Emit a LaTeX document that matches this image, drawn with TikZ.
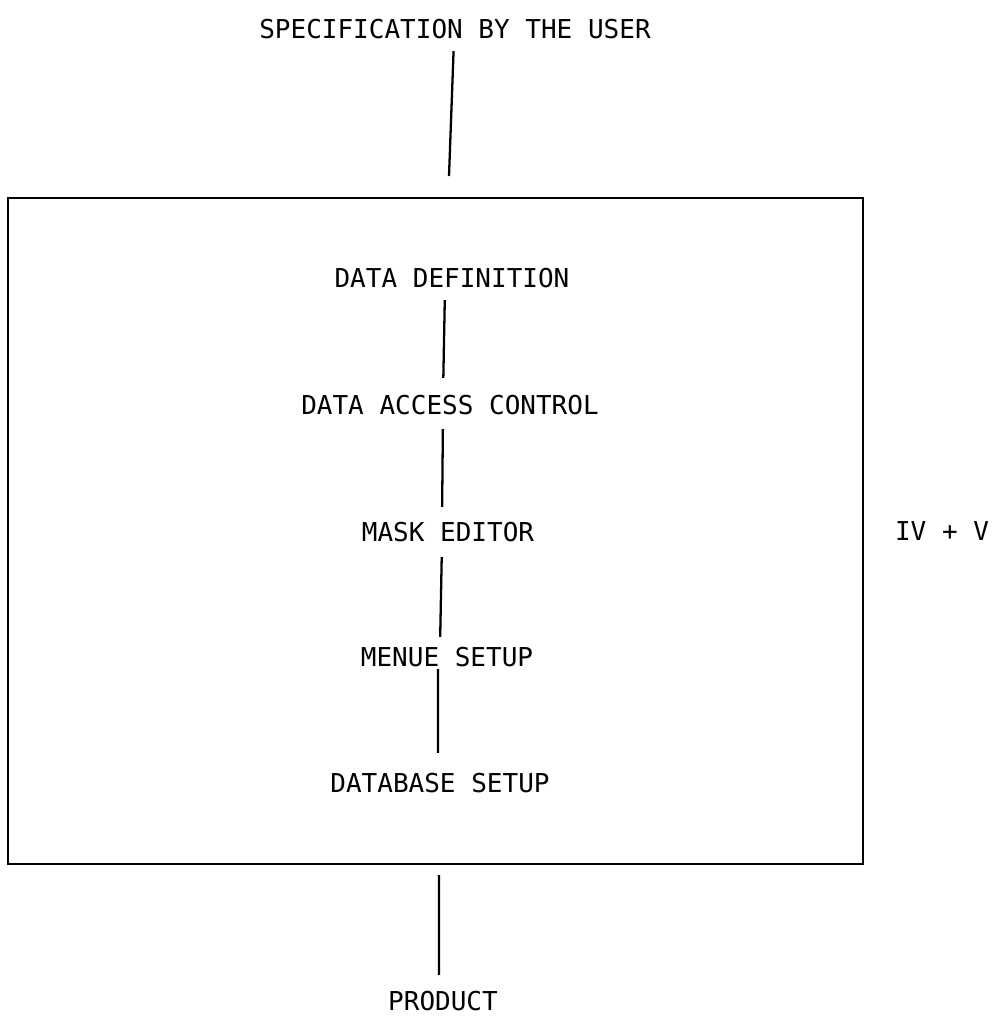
\documentclass[tikz,border=0pt]{standalone}
\usepackage{fontspec}
\setmonofont{DejaVu Sans Mono}
\begin{document}
\begin{tikzpicture}[x=0.02cm,y=-0.02cm,
  lbl/.style={font=\ttfamily\fontsize{14.8pt}{17pt}\selectfont, inner sep=0pt, anchor=center},
  conn/.style={line width=1.3pt},
  frame/.style={line width=1.5pt}]
\useasboundingbox (0,0) rectangle (996,1017);
\node[lbl] (spec) at (455,29) {SPECIFICATION BY THE USER};
\node[lbl] (dd)   at (452,278) {DATA DEFINITION};
\node[lbl] (dac)  at (450,405) {DATA ACCESS CONTROL};
\node[lbl] (me)   at (448,532) {MASK EDITOR};
\node[lbl] (ms)   at (447,657) {MENUE SETUP};
\node[lbl] (db)   at (440,783) {DATABASE SETUP};
\node[lbl] (prod) at (443,1001) {PRODUCT};
\node[lbl] (iv)   at (942,531) {IV + V};
\draw[frame] (8,198) rectangle (863,864);
\coordinate (topend) at (449,176);
\coordinate (botstart) at (439,875);
\draw[conn, shorten <=0.24cm] ([xshift=-0.02cm]spec.south) -- (topend);
\draw[conn, shorten <=0.24cm, shorten >=0.34cm] ([xshift=-0.14cm]dd.south) -- ([xshift=-0.14cm]dac.north);
\draw[conn, shorten <=0.28cm, shorten >=0.30cm] ([xshift=-0.14cm]dac.south) -- ([xshift=-0.12cm]me.north);
\draw[conn, shorten <=0.30cm, shorten >=0.20cm] ([xshift=-0.12cm]me.south) -- ([xshift=-0.14cm]ms.north);
\draw[conn, shorten <=0.04cm, shorten >=0.40cm] ([xshift=-0.18cm]ms.south) -- ([xshift=-0.04cm]db.north);
\draw[conn, shorten >=0.32cm] (botstart) -- ([xshift=-0.08cm]prod.north);
\end{tikzpicture}
\end{document}
